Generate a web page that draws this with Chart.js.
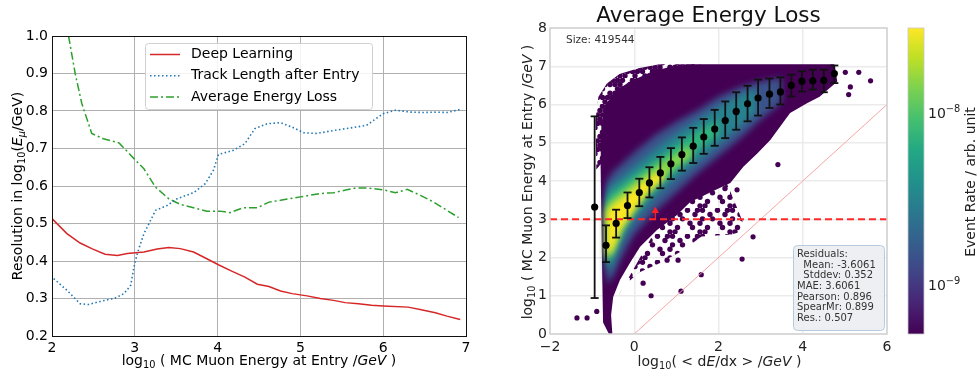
<!DOCTYPE html>
<html>
<head>
<meta charset="utf-8">
<script src="https://cdn.jsdelivr.net/npm/chart.js@4.4.0/dist/chart.umd.min.js"></script>
<style>
html, body { margin: 0; padding: 0; background: #fff; }
#wrap { position: relative; width: 979px; height: 374px; overflow: hidden; }
canvas { position: absolute; top: 0; }
</style>
</head>
<body>
<div id="wrap">
  <canvas id="resChart" width="490" height="374" style="left:0px"></canvas>
  <canvas id="elossChart" width="410" height="374" style="left:490px"></canvas>
  <canvas id="cbarChart" width="79" height="374" style="left:900px"></canvas>
</div>
<script>
// ---------- left panel: resolution vs MC muon energy ----------
const resXTicks = [2, 3, 4, 5, 6, 7];
const resYTicks = [0.2, 0.3, 0.4, 0.5, 0.6, 0.7, 0.8, 0.9, 1.0];

const dlX = [2.0, 2.18, 2.34, 2.48, 2.64, 2.79, 2.91, 3.11, 3.27, 3.41, 3.55, 3.71, 3.87, 4.01, 4.17, 4.33,
  4.48, 4.62, 4.76, 4.90, 5.08, 5.24, 5.40, 5.54, 5.70, 5.86, 6.00, 6.30, 6.46, 6.63, 6.77, 6.93];
const dlY = [0.513, 0.473, 0.448, 0.433, 0.418, 0.415, 0.420, 0.424, 0.432, 0.436, 0.433, 0.424, 0.406, 0.390, 0.373, 0.357,
  0.338, 0.332, 0.320, 0.313, 0.307, 0.300, 0.295, 0.289, 0.286, 0.282, 0.280, 0.277, 0.270, 0.262, 0.253, 0.244];

const tlX = [2.02, 2.18, 2.34, 2.44, 2.58, 2.76, 2.87, 2.95, 2.99, 3.03, 3.11, 3.19, 3.25, 3.39, 3.51, 3.71, 3.85, 3.95, 4.01,
  4.19, 4.33, 4.45, 4.60, 4.76, 4.90, 5.04, 5.20, 5.40, 5.64, 5.80, 6.00, 6.15, 6.33, 6.49, 6.61, 6.77, 6.93];
const tlY = [0.353, 0.322, 0.286, 0.284, 0.292, 0.301, 0.313, 0.335, 0.384, 0.420, 0.473, 0.508, 0.535, 0.548, 0.566, 0.582, 0.606, 0.642, 0.684,
  0.695, 0.713, 0.753, 0.766, 0.769, 0.757, 0.742, 0.740, 0.748, 0.756, 0.762, 0.793, 0.802, 0.797, 0.796, 0.797, 0.796, 0.804];

const aeX = [2.20, 2.28, 2.36, 2.48, 2.62, 2.81, 2.99, 3.11, 3.25, 3.41, 3.55, 3.71, 3.87, 4.03, 4.15, 4.31,
  4.48, 4.62, 4.76, 5.00, 5.24, 5.40, 5.56, 5.68, 5.80, 6.00, 6.15, 6.29, 6.45, 6.61, 6.77, 6.91];
const aeY = [1.000, 0.900, 0.820, 0.740, 0.726, 0.715, 0.673, 0.646, 0.597, 0.566, 0.551, 0.542, 0.533, 0.533, 0.529, 0.542,
  0.542, 0.557, 0.562, 0.571, 0.580, 0.582, 0.590, 0.595, 0.595, 0.590, 0.582, 0.591, 0.575, 0.557, 0.535, 0.516];

// ---------- right panel: average energy loss vs MC energy ----------
const elXTicks = [-2, 0, 2, 4, 6];
const elYTicks = [0, 1, 2, 3, 4, 5, 6, 7, 8];
const sampleSize = 419544;

// binned means with spread
const binX = [-0.94, -0.67, -0.43, -0.16, 0.12, 0.36, 0.62, 0.87, 1.13, 1.40, 1.65, 1.91, 2.16, 2.42, 2.69, 2.94, 3.21, 3.47, 3.73, 3.98, 4.24, 4.50, 4.75];
const meanY = [3.32, 2.32, 2.89, 3.36, 3.70, 3.95, 4.21, 4.45, 4.69, 4.91, 5.15, 5.36, 5.58, 5.82, 6.02, 6.17, 6.27, 6.33, 6.50, 6.61, 6.62, 6.63, 6.81];
const errHi = [5.69, 2.84, 3.25, 3.70, 4.06, 4.36, 4.63, 4.86, 5.14, 5.39, 5.62, 5.86, 6.08, 6.32, 6.49, 6.65, 6.68, 6.71, 6.78, 6.87, 6.91, 6.91, 7.02];
const errLo = [0.94, 1.88, 2.52, 3.03, 3.34, 3.57, 3.81, 4.05, 4.27, 4.47, 4.71, 4.92, 5.12, 5.34, 5.56, 5.71, 5.91, 6.00, 6.21, 6.34, 6.39, 6.32, 6.56];

// hexbin density, read as nested regions (outer to inner)
const sparseUpperLeft = [[-0.9, 4.3], [-0.92, 5.6], [-0.85, 6.2], [-0.65, 6.55], [-0.35, 6.8], [0.1, 6.95], [0.6, 7.05], [1.6, 7.05], [1.6, 6.5], [0.0, 5.5]];
const sparseLowerRight = [[2.15, 4.05], [2.35, 3.55], [2.55, 3.0], [2.7, 2.72], [2.3, 2.6], [1.6, 2.55], [1.1, 2.15], [0.6, 1.85], [0.1, 1.6],
  [-0.25, 1.25], [-0.45, 0.85], [0.6, 2.9], [1.5, 3.7]];
const denseRegion = [[-0.6, 0.0], [-0.74, 0.3], [-0.76, 1.5], [-0.78, 3.0], [-0.8, 4.5], [-0.78, 5.5], [-0.68, 6.0], [-0.45, 6.35], [-0.1, 6.6],
  [0.4, 6.85], [0.9, 7.0], [1.4, 7.05], [4.75, 7.05], [4.82, 6.6], [4.4, 6.2], [4.1, 6.03], [3.7, 5.78], [3.46, 5.42], [3.23, 5.07], [2.92, 4.72],
  [2.59, 4.37], [2.28, 3.95], [1.9, 3.75], [1.33, 3.45], [1.0, 3.1], [0.54, 2.72], [0.14, 2.28], [-0.1, 1.86], [-0.34, 1.41], [-0.5, 0.97],
  [-0.55, 0.5], [-0.52, 0.0]];
const bandBlue = [[-0.66, 4.0], [-0.5, 4.25], [0, 4.75], [0.5, 5.2], [1.0, 5.55], [1.5, 5.85], [2.0, 6.2], [2.5, 6.45], [3.0, 6.6], [3.5, 6.7],
  [3.5, 6.05], [3.0, 5.6], [2.5, 5.1], [2.0, 4.65], [1.5, 4.2], [1.0, 3.7], [0.5, 3.2], [0.0, 2.6], [-0.3, 2.0], [-0.5, 1.5], [-0.66, 1.3]];
const bandTeal = [[-0.66, 3.8], [-0.5, 3.95], [0, 4.4], [0.5, 4.85], [1.0, 5.25], [1.5, 5.6], [2.0, 5.95], [2.5, 6.25], [2.9, 6.4],
  [2.9, 5.8], [2.5, 5.4], [2.0, 4.95], [1.5, 4.5], [1.0, 4.05], [0.5, 3.55], [0.0, 2.95], [-0.3, 2.4], [-0.5, 1.85], [-0.66, 1.55]];
const bandGreen = [[-0.66, 3.55], [-0.5, 3.72], [0, 4.15], [0.5, 4.55], [1.0, 4.95], [1.5, 5.3], [2.0, 5.6],
  [2.0, 5.2], [1.5, 4.8], [1.0, 4.3], [0.5, 3.85], [0.0, 3.25], [-0.3, 2.7], [-0.5, 2.1], [-0.66, 1.8]];
const bandLime = [[-0.66, 3.35], [-0.5, 3.52], [0, 3.97], [0.5, 4.37], [1.0, 4.72], [1.35, 4.92],
  [1.35, 4.6], [1.0, 4.38], [0.5, 3.92], [0, 3.35], [-0.3, 2.8], [-0.5, 2.25], [-0.66, 1.95]];
const bandYellow = [[-0.66, 3.2], [-0.5, 3.38], [-0.2, 3.62], [0.1, 3.88], [0.4, 4.12], [0.7, 4.3],
  [0.7, 4.05], [0.3, 3.68], [0.0, 3.22], [-0.3, 2.75], [-0.5, 2.2], [-0.66, 2.0]];
const strayX = [-1.36, -1.12, -0.89, 0.21, 0.40, 0.78, 1.04, 1.11, 1.59, 2.56, 2.82, 2.44, 3.41, 5.01, 5.33, 5.61, 5.09, 5.13];
const strayY = [0.42, 0.42, 0.59, 1.33, 1.00, 1.93, 1.93, 1.12, 1.55, 1.96, 2.54, 3.77, 4.43, 6.84, 6.84, 6.62, 6.26, 6.46];

const energyCut = 3.0;
const cutX = [-2, 6];
const diagX = [0, 6];
const arrowX = [0.5, 0.5];
const arrowY = [3.0, 3.22];
const residualText = ['Residuals:', '  Mean: -3.6061', '  Stddev: 0.352', 'MAE: 3.6061', 'Pearson: 0.896', 'SpearMr: 0.899', 'Res.: 0.507'];

// colour bar
const cbRange = [5.2e-10, 3.1e-8];
const cbExponents = [-9, -8];
const viridis = ['#440154', '#482475', '#414487', '#355f8d', '#2a788e', '#21918c', '#22a884', '#44bf70', '#7ad151', '#bddf26', '#fde725'];

const FONT = '"DejaVu Sans", sans-serif';
Chart.defaults.font.family = FONT;
Chart.defaults.font.size = 14;
Chart.defaults.color = '#000';
Chart.defaults.animation = false;
Chart.defaults.events = [];
Chart.defaults.plugins.legend.display = false;
Chart.defaults.plugins.tooltip.enabled = false;

function pts(xs, ys) { return xs.map((x, i) => ({ x: x, y: ys[i] })); }
function poly(pairs) { return pairs.map(p => ({ x: p[0], y: p[1] })); }

// text with sub/superscripts and italics, centred unless align is 'left'
function rich(ctx, parts, x, y, size, opts) {
  opts = opts || {};
  ctx.save();
  ctx.translate(x, y);
  if (opts.rot) ctx.rotate(opts.rot);
  ctx.fillStyle = opts.color || '#000';
  ctx.textBaseline = 'alphabetic';
  ctx.textAlign = 'left';
  const fonts = parts.map(p => (p.it ? 'italic ' : '') + ((p.sub || p.sup) ? size * 0.7 : size) + 'px ' + FONT);
  const widths = parts.map((p, i) => { ctx.font = fonts[i]; return ctx.measureText(p.t).width; });
  const total = widths.reduce((a, b) => a + b, 0);
  let cx = opts.align === 'left' ? 0 : -total / 2;
  parts.forEach((p, i) => {
    ctx.font = fonts[i];
    const dy = p.sub ? size * 0.22 : (p.sup ? -size * 0.42 : 0);
    ctx.fillText(p.t, cx, dy);
    cx += widths[i];
  });
  ctx.restore();
}

function fixedTicks(list) { return s => { s.ticks = list.map(v => ({ value: v })); }; }

// ---------- left chart ----------
const resDecor = {
  id: 'resDecor',
  afterDatasetsDraw(chart) {
    const { ctx, chartArea: a } = chart;
    ctx.save();
    ctx.strokeStyle = '#111';
    ctx.lineWidth = 1;
    ctx.strokeRect(a.left + 0.5, a.top + 0.5, a.width, a.height);

    // legend
    ctx.beginPath();
    ctx.roundRect(145.5, 43.5, 227, 66, 3);
    ctx.fillStyle = 'rgba(255,255,255,0.85)';
    ctx.fill();
    ctx.strokeStyle = '#d0d0d0';
    ctx.stroke();
    chart.data.datasets.forEach((ds, i) => {
      const y = 54.5 + i * 21.3;
      ctx.beginPath();
      ctx.setLineDash(ds.borderDash || []);
      ctx.strokeStyle = ds.borderColor;
      ctx.lineWidth = ds.borderWidth;
      ctx.moveTo(150, y);
      ctx.lineTo(180, y);
      ctx.stroke();
      ctx.setLineDash([]);
      ctx.fillStyle = '#000';
      ctx.font = '14px ' + FONT;
      ctx.textBaseline = 'middle';
      ctx.fillText(ds.label, 191, y);
    });
    ctx.restore();
  },
  afterDraw(chart) {
    const ctx = chart.ctx;
    rich(ctx, [{ t: 'log' }, { t: '10', sub: true }, { t: ' ( MC Muon Energy at Entry /' }, { t: 'GeV', it: true }, { t: ' )' }], 259, 365, 14);
    rich(ctx, [{ t: 'Resolution in log' }, { t: '10', sub: true }, { t: '(' }, { t: 'E', it: true }, { t: 'μ', sub: true, it: true }, { t: '/GeV)' }],
      22, 186, 14, { rot: -Math.PI / 2 });
  }
};

new Chart(document.getElementById('resChart'), {
  type: 'line',
  data: {
    datasets: [
      { label: 'Deep Learning', data: pts(dlX, dlY), borderColor: '#d62728', borderWidth: 1.5, pointRadius: 0 },
      { label: 'Track Length after Entry', data: pts(tlX, tlY), borderColor: '#1f77b4', borderWidth: 1.6, borderDash: [1.5, 2.5], pointRadius: 0 },
      { label: 'Average Energy Loss', data: pts(aeX, aeY), borderColor: '#2ca02c', borderWidth: 1.5, borderDash: [8, 3, 2, 3], pointRadius: 0 }
    ]
  },
  options: {
    responsive: false,
    layout: { padding: { left: 0, right: 24, top: 36, bottom: 0 } },
    scales: {
      x: {
        type: 'linear', min: 2, max: 7,
        afterBuildTicks: fixedTicks(resXTicks),
        afterFit: s => { s.height = 38; },
        grid: { color: '#b0b0b0', lineWidth: 1, drawTicks: false },
        border: { display: false },
        ticks: { padding: 4, maxRotation: 0, callback: v => String(v) }
      },
      y: {
        type: 'linear', min: 0.2, max: 1.0,
        afterBuildTicks: fixedTicks(resYTicks),
        afterFit: s => { s.width = 52; },
        grid: { color: '#b0b0b0', lineWidth: 1, drawTicks: false },
        border: { display: false },
        ticks: { padding: 4, callback: v => v.toFixed(1) }
      }
    }
  },
  plugins: [resDecor]
});

// ---------- right chart ----------
// speckle textures for the sparsely filled hexbin fringe (hex grid, 1 = filled cell)
function speckle(mask) {
  const c = document.createElement('canvas');
  c.width = 30;
  c.height = 26;
  const p = c.getContext('2d');
  p.fillStyle = '#440154';
  mask.forEach((row, r) => {
    for (let k = 0; k < row.length; k++) {
      if (row[k] !== '1') continue;
      const cx = 2.5 + k * 5 + (r % 2 ? 2.5 : 0);
      const cy = 2.2 + r * 4.33;
      [cx, cx - 30].forEach(x => { p.beginPath(); p.arc(x, cy, 2.7, 0, Math.PI * 2); p.fill(); });
    }
  });
  return p.createPattern(c, 'repeat');
}
const speckleDense = speckle(['111011', '110111', '011110', '111101', '101111', '111010']);
const speckleSparse = speckle(['100101', '010010', '101000', '000101', '010010', '100001']);

const errData = [];
binX.forEach((x, i) => { errData.push({ x: x, y: errLo[i] }, { x: x, y: errHi[i] }, { x: x, y: null }); });

function region(pairs, color, order, extra) {
  return Object.assign({ data: poly(pairs), fill: 'shape', backgroundColor: color, borderWidth: 0, pointRadius: 0, order: order }, extra || {});
}

const elossDecor = {
  id: 'elossDecor',
  afterDatasetDraw(chart, args) {
    const ds = chart.data.datasets[args.index];
    if (ds.blurStart) { chart.ctx.save(); chart.ctx.filter = 'blur(3px)'; }
    if (ds.blurEnd) { chart.ctx.restore(); }
  },
  afterDraw(chart) {
    const { ctx, chartArea: a } = chart;
    ctx.save();
    ctx.strokeStyle = '#d2d2d2';
    ctx.lineWidth = 1.5;
    ctx.strokeRect(a.left, a.top, a.width, a.height);

    ctx.fillStyle = '#333';
    ctx.font = '10.5px ' + FONT;
    ctx.textBaseline = 'alphabetic';
    ctx.fillText('Size: ' + sampleSize, 76, 42.5);

    // residual summary box
    ctx.beginPath();
    ctx.roundRect(303.5, 245.5, 91, 85, 4);
    ctx.fillStyle = 'rgba(236,238,241,0.92)';
    ctx.fill();
    ctx.strokeStyle = '#b5cce0';
    ctx.lineWidth = 1;
    ctx.stroke();
    ctx.fillStyle = '#333';
    ctx.font = '10px ' + FONT;
    residualText.forEach((line, i) => ctx.fillText(line, 307, 257 + i * 10.67));
    ctx.restore();

    rich(ctx, [{ t: 'Average Energy Loss' }], 218.5, 22, 21.5, { color: '#111' });
    rich(ctx, [{ t: 'log' }, { t: '10', sub: true }, { t: '( < d' }, { t: 'E', it: true }, { t: '/dx > /' }, { t: 'GeV', it: true }, { t: ' )' }],
      229.5, 366, 14, { color: '#222' });
    rich(ctx, [{ t: 'log' }, { t: '10', sub: true }, { t: ' ( MC Muon Energy at Entry /' }, { t: 'GeV', it: true }, { t: ' )' }],
      42, 182, 14, { rot: -Math.PI / 2, color: '#222' });
  }
};

new Chart(document.getElementById('elossChart'), {
  type: 'line',
  data: {
    datasets: [
      { data: pts(binX, meanY), showLine: false, pointRadius: 3.6, pointBackgroundColor: '#000', pointBorderWidth: 0, order: 1 },
      { data: errData, borderColor: '#111', borderWidth: 1.8, pointStyle: 'line', pointRadius: 4, pointBorderColor: '#111', pointBorderWidth: 1.8, spanGaps: false, order: 2 },
      { data: pts(arrowX, arrowY), borderColor: '#ff2020', borderWidth: 1.2, pointStyle: 'triangle', pointRadius: [0, 3], pointBackgroundColor: '#ff2020', pointBorderColor: '#ff2020', order: 9 },
      { data: pts(cutX, [energyCut, energyCut]), borderColor: '#ff2a2a', borderWidth: 2, borderDash: [7, 4], pointRadius: 0, order: 10 },
      { data: pts(diagX, diagX), borderColor: '#f7a5a5', borderWidth: 1, pointRadius: 0, order: 11 },
      { data: pts(strayX, strayY), showLine: false, pointRadius: 2.6, pointBackgroundColor: '#440154', pointBorderWidth: 0, order: 12 },
      region(bandYellow, '#fae622', 13, { blurEnd: true }),
      region(bandLime, '#86d549', 14),
      region(bandGreen, '#2fb47c', 15),
      region(bandTeal, '#26828e', 16),
      region(bandBlue, '#3b528b', 17),
      region(denseRegion, '#440154', 18, { blurStart: true }),
      region(sparseLowerRight, speckleSparse, 19),
      region(sparseUpperLeft, speckleDense, 20)
    ]
  },
  options: {
    responsive: false,
    layout: { padding: { left: 0, right: 13, top: 28, bottom: 0 } },
    scales: {
      x: {
        type: 'linear', min: -2, max: 6,
        afterBuildTicks: fixedTicks(elXTicks),
        afterFit: s => { s.height = 40; },
        grid: { color: '#ebebeb', lineWidth: 1.5, drawTicks: false },
        border: { display: false },
        ticks: { padding: 5, maxRotation: 0, color: '#222', callback: v => (v < 0 ? '\u2212' + Math.abs(v) : String(v)) }
      },
      y: {
        type: 'linear', min: 0, max: 8,
        afterBuildTicks: fixedTicks(elYTicks),
        afterFit: s => { s.width = 60; },
        grid: { color: '#ebebeb', lineWidth: 1.5, drawTicks: false },
        border: { display: false },
        ticks: { padding: 3, color: '#222', callback: v => String(v) }
      }
    }
  },
  plugins: [elossDecor]
});

// ---------- colour bar ----------
function viridisFill(c) {
  const a = c.chart.chartArea;
  if (!a) return viridis[0];
  const g = c.chart.ctx.createLinearGradient(0, a.bottom, 0, a.top);
  viridis.forEach((col, i) => g.addColorStop(i / (viridis.length - 1), col));
  return g;
}

const cbDecor = {
  id: 'cbDecor',
  afterDraw(chart) {
    const { ctx, chartArea: a } = chart;
    const ys = chart.scales.y;
    ctx.save();
    ctx.strokeStyle = '#c8c8c8';
    ctx.lineWidth = 0.8;
    ctx.strokeRect(a.left, a.top, a.width, a.height);
    ctx.restore();
    cbExponents.forEach(e => {
      const y = ys.getPixelForValue(Math.pow(10, e));
      rich(ctx, [{ t: '10' }, { t: '\u2212' + Math.abs(e), sup: true }], a.right + 4, y + 5, 14, { align: 'left', color: '#222' });
    });
    rich(ctx, [{ t: 'Event Rate / arb. unit' }], 75, 182, 14, { rot: -Math.PI / 2, color: '#222' });
  }
};

new Chart(document.getElementById('cbarChart'), {
  type: 'bar',
  data: {
    labels: ['rate'],
    datasets: [{ data: [[cbRange[0], cbRange[1]]], backgroundColor: viridisFill, borderWidth: 0, barPercentage: 1, categoryPercentage: 1 }]
  },
  options: {
    responsive: false,
    layout: { padding: { left: 8, right: 0, top: 28, bottom: 40 } },
    scales: {
      x: { display: false },
      y: {
        type: 'logarithmic', position: 'right', min: cbRange[0], max: cbRange[1],
        afterFit: s => { s.width = 55; },
        grid: { display: false },
        border: { display: false },
        ticks: { display: false }
      }
    }
  },
  plugins: [cbDecor]
});
</script>
</body>
</html>
